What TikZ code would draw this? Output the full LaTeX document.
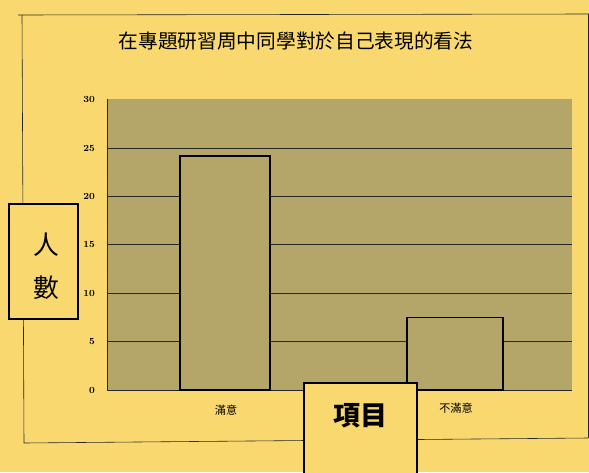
\documentclass[tikz,border=0pt]{standalone}
\usepackage{fontspec}
\newfontfamily\cjk{Noto Sans CJK TC}
\definecolor{bg}{RGB}{249,216,112}
\definecolor{plotfill}{RGB}{180,166,104}
\begin{document}
\begin{tikzpicture}[x=0.03cm,y=-0.03cm,
  frame/.style={draw=black!85,line width=0.5pt},
  grid/.style={draw=black!85,line width=0.7pt},
  barbox/.style={draw=black,line width=1.3pt,fill=plotfill},
  tick/.style={font=\bfseries\fontsize{8}{9}\selectfont,anchor=east,inner sep=0pt},
  cat/.style={font=\cjk\fontsize{9.5}{11}\selectfont,inner sep=0pt},
  labelbox/.style={draw=black,line width=1pt,fill=bg}]
\useasboundingbox (0,0) rectangle (589,472);
\fill[bg] (0,0) rectangle (589,472);
% outer frame
\draw[frame] (18,15) -- (589,14);
\draw[frame] (22,15) -- (24,443) -- (588,438);
\draw[frame] (588,14) -- (588,438);
% title
\node[font=\cjk\fontsize{16.8}{19}\selectfont,inner sep=0pt] (title) at (296,41) {在專題研習周中同學對於自己表現的看法};
% plot area
\fill[plotfill] (107,99) rectangle (572,390);
\foreach \v in {5,10,15,20,25}{
  \draw[grid] (107,{390-\v*9.68}) -- (572,{390-\v*9.68});
}
\draw[grid] (107,99) -- (107,390) -- (572,390);
\foreach \v in {0,5,...,30}{
  \node[tick] (t\v) at (95,{390-\v*9.68}) {\v};
}
% bars
\draw[barbox] (180,390) rectangle (270,{390-24.2*9.68});
\draw[barbox] (407,390) rectangle (503,{390-7.5*9.68});
% category labels
\node[cat] (c1) at (226,410) {滿意};
\node[cat] (c2) at (456,408) {不滿意};
% axis title boxes
\draw[labelbox] (304,383) rectangle (417,475);
\node[font=\cjk\bfseries\fontsize{23}{26}\selectfont,inner sep=0pt] (xlab) at (360,416) {項目};
\draw[labelbox] (9,204) rectangle (78,319);
\node[font=\cjk\fontsize{22}{26}\selectfont,inner sep=0pt] (yl1) at (46,245) {人};
\node[font=\cjk\fontsize{22}{26}\selectfont,inner sep=0pt] (yl2) at (46,288) {數};
\end{tikzpicture}
\end{document}
